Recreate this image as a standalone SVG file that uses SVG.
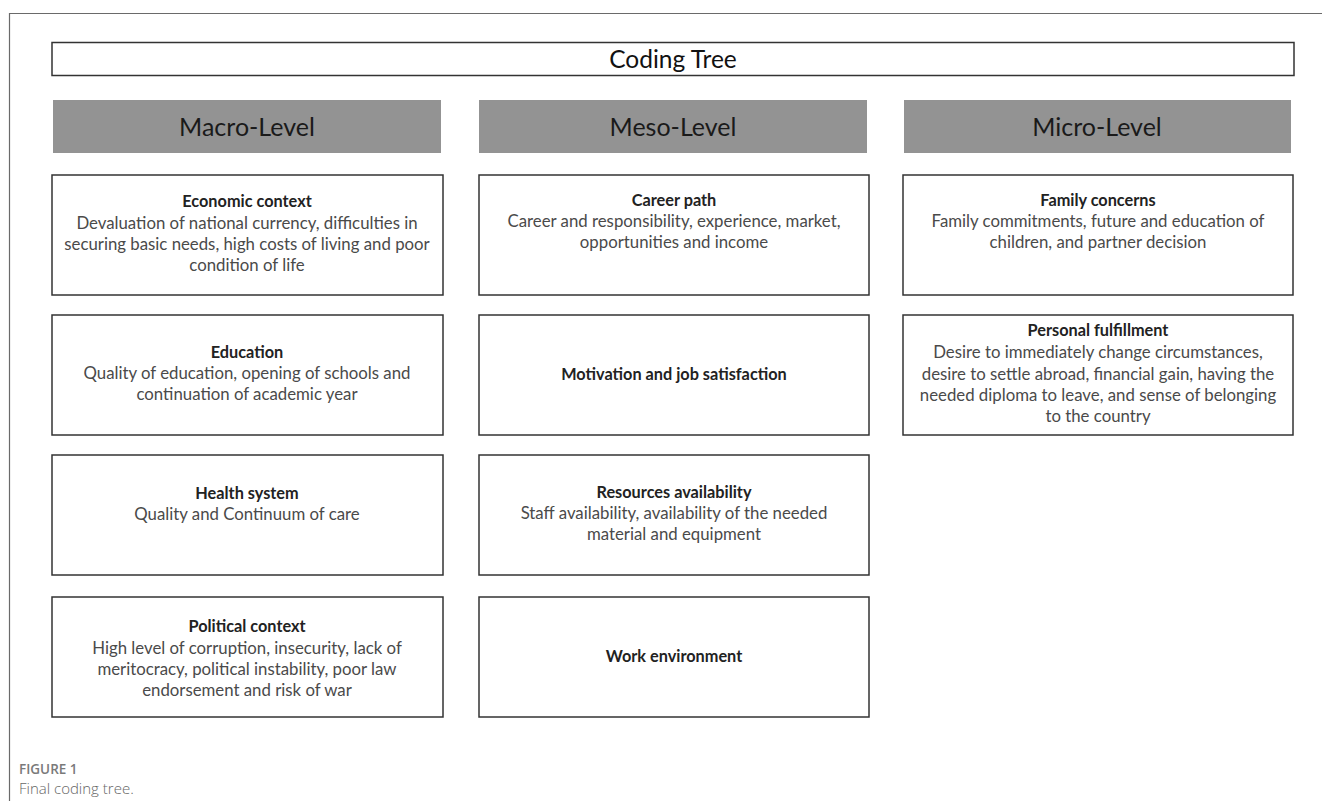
<svg xmlns="http://www.w3.org/2000/svg" width="1322" height="801" viewBox="0 0 1322 801">
<style>
.frame{fill:none;stroke:#6a6a6a;stroke-width:1.2}
.box{fill:#fff;stroke:#333;stroke-width:1.5}
.hdr{fill:#939393}
.t{font-family:Lato,"Open Sans",sans-serif;text-anchor:middle}
.ttl{font-size:24.5px;fill:#111}
.h{font-size:25px;fill:#1a1a1a}
.b{font-size:16.3px;font-weight:bold;fill:#222}
.d{font-size:16.8px;fill:#4a4a4a}
.cap1{font-family:"Open Sans",sans-serif;font-size:13.5px;font-weight:600;fill:#7a7a7a}
.cap2{font-family:"Open Sans",sans-serif;font-size:15px;font-weight:300;fill:#666}
</style>
<rect width="1322" height="801" fill="#fff"/>
<path class="frame" d="M1322 13.5H9.5V801"/>
<g id="title"><rect class="box" x="52" y="42.5" width="1242" height="33"/><text class="t ttl" x="673" y="67.5">Coding Tree</text></g>
<g id="hdr-macro"><rect class="hdr" x="53" y="100" width="388" height="53"/><text class="t h" x="247" y="135.5">Macro-Level</text></g>
<g id="hdr-meso"><rect class="hdr" x="479" y="100" width="388" height="53"/><text class="t h" x="673" y="135.5">Meso-Level</text></g>
<g id="hdr-micro"><rect class="hdr" x="904" y="100" width="387" height="53"/><text class="t h" x="1097" y="135.5">Micro-Level</text></g>

<g id="economic"><rect class="box" x="52" y="175" width="391" height="120"/>
<text class="t b" x="247" y="207">Economic context</text>
<text class="t d" x="247" y="229">Devaluation of national currency, difficulties in</text>
<text class="t d" x="247" y="250">securing basic needs, high costs of living and poor</text>
<text class="t d" x="247" y="271">condition of life</text></g>
<g id="education"><rect class="box" x="52" y="315" width="391" height="120"/>
<text class="t b" x="247" y="358">Education</text>
<text class="t d" x="247" y="379">Quality of education, opening of schools and</text>
<text class="t d" x="247" y="400">continuation of academic year</text></g>
<g id="health"><rect class="box" x="52" y="455" width="391" height="120"/>
<text class="t b" x="247" y="499">Health system</text>
<text class="t d" x="247" y="520">Quality and Continuum of care</text></g>
<g id="political"><rect class="box" x="52" y="597" width="391" height="120"/>
<text class="t b" x="247" y="632">Political context</text>
<text class="t d" x="247" y="654">High level of corruption,  insecurity, lack of</text>
<text class="t d" x="247" y="675">meritocracy, political instability, poor law</text>
<text class="t d" x="247" y="696">endorsement  and risk of war</text></g>

<g id="career"><rect class="box" x="479" y="175" width="390" height="120"/>
<text class="t b" x="674" y="206">Career path</text>
<text class="t d" x="674" y="227">Career and responsibility, experience, market,</text>
<text class="t d" x="674" y="248">opportunities and income</text></g>
<g id="motivation"><rect class="box" x="479" y="315" width="390" height="120"/>
<text class="t b" x="674" y="380">Motivation and job satisfaction</text></g>
<g id="resources"><rect class="box" x="479" y="455" width="390" height="120"/>
<text class="t b" x="674" y="498">Resources availability</text>
<text class="t d" x="674" y="519">Staff availability, availability of the needed</text>
<text class="t d" x="674" y="540">material and equipment</text></g>
<g id="work"><rect class="box" x="479" y="597" width="390" height="120"/>
<text class="t b" x="674" y="662">Work environment</text></g>

<g id="family"><rect class="box" x="903" y="175" width="390" height="120"/>
<text class="t b" x="1098" y="206">Family concerns</text>
<text class="t d" x="1098" y="227">Family commitments, future and education of</text>
<text class="t d" x="1098" y="248">children, and partner decision</text></g>
<g id="personal"><rect class="box" x="903" y="315" width="390" height="120"/>
<text class="t b" x="1098" y="336">Personal fulfillment</text>
<text class="t d" x="1098" y="358">Desire to immediately change circumstances,</text>
<text class="t d" x="1098" y="380">desire to settle abroad, financial gain, having the</text>
<text class="t d" x="1098" y="401">needed diploma to leave, and sense of belonging</text>
<text class="t d" x="1098" y="422">to the country</text></g>

<g id="connectors"></g>
<text class="cap1" x="19" y="774">FIGURE 1</text>
<text class="cap2" x="19" y="794">Final coding tree.</text>
</svg>
